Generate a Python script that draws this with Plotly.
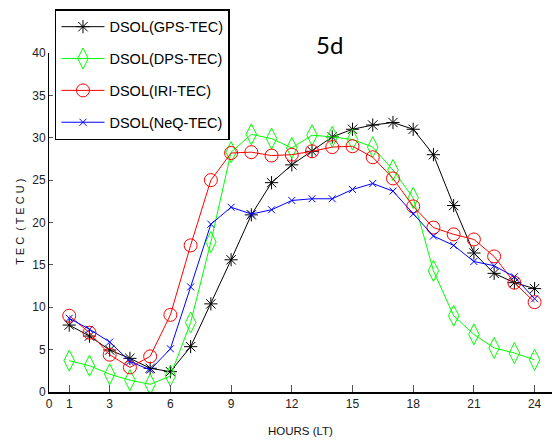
import plotly.graph_objects as go

hours = list(range(1, 25))
gps_tec = [7.9, 6.6, 4.95, 3.97, 2.8, 2.4, 5.35, 10.4, 15.6, 20.9, 24.7, 26.8,
           28.4, 30.1, 31.0, 31.5, 31.8, 31.0, 28.0, 22.0, 16.4, 14.0, 12.9, 12.2]
dps_tec = [3.7, 3.1, 2.1, 1.4, 0.9, 1.9, 8.2, 17.7, 28.3, 30.4, 29.9, 28.8,
           30.3, 30.1, 29.8, 28.9, 26.2, 22.9, 14.3, 9.0, 6.8, 5.2, 4.6, 3.8]
iri_tec = [9.0, 7.0, 4.4, 2.9, 4.2, 9.1, 17.3, 25.0, 28.2, 28.3, 27.9, 28.0,
           28.4, 28.9, 29.0, 27.7, 25.2, 21.9, 19.4, 18.6, 18.0, 16.0, 12.9, 10.6]
neq_tec = [8.7, 7.4, 5.9, 3.6, 2.6, 5.1, 12.4, 19.8, 21.8, 21.0, 21.5, 22.6,
           22.8, 22.8, 23.9, 24.6, 23.7, 21.0, 18.4, 17.3, 15.4, 14.9, 13.6, 11.0]

series_names = ["DSOL(GPS-TEC)", "DSOL(DPS-TEC)", "DSOL(IRI-TEC)", "DSOL(NeQ-TEC)"]
x_ticks = [0, 1, 3, 6, 9, 12, 15, 18, 21, 24]
y_ticks = [0, 5, 10, 15, 20, 25, 30, 35, 40]

SANS = "Liberation Sans, Arial, sans-serif"

styles = [
    dict(color="#000000", symbol="asterisk-open", size=11),
    dict(color="#00ff00", symbol="diamond-tall-open", size=15),
    dict(color="#ff0000", symbol="circle-open", size=13),
    dict(color="#0000ff", symbol="x-thin-open", size=7),
]
data = [gps_tec, dps_tec, iri_tec, neq_tec]

fig = go.Figure()
for i, (name, ys, st) in enumerate(zip(series_names, data, styles)):
    fig.add_trace(go.Scatter(
        x=hours, y=ys, name=name, mode="lines+markers",
        legendgroup=f"g{i}",
        line=dict(color=st["color"], width=1),
        marker=dict(symbol=st["symbol"], size=st["size"], color=st["color"],
                    line=dict(color=st["color"], width=1)),
    ))

fig.add_annotation(text="5d", x=0.558, y=1.026, xref="paper", yref="paper",
                   xanchor="center", yanchor="middle",
                   showarrow=False, font=dict(family="Lato, Open Sans, sans-serif", size=24, color="#000"))
fig.add_annotation(text="HOURS (LT)", x=0.5007, y=-0.114, xref="paper", yref="paper",
                   xanchor="center", yanchor="middle",
                   showarrow=False, font=dict(family=SANS, size=11.5, color="#111"))
fig.add_annotation(text="T E C  ( T E C U )", x=-0.0583, y=0.501, xref="paper", yref="paper",
                   xanchor="center", yanchor="middle",
                   textangle=-90, showarrow=False,
                   font=dict(family=SANS, size=11, color="#111"))

fig.update_layout(
    width=552, height=441,
    margin=dict(l=49, r=0, t=53, b=49, autoexpand=False),
    paper_bgcolor="white", plot_bgcolor="white",
    showlegend=True,
    legend=dict(x=0.0996, y=0.979, xref="container", yref="container",
                xanchor="left", yanchor="top",
                bordercolor="#000", borderwidth=1.5, bgcolor="white",
                font=dict(family=SANS, size=14.5, color="#000"),
                itemwidth=43, tracegroupgap=10),
    xaxis=dict(range=[0, 24.86], tickvals=x_ticks, ticktext=[str(t) for t in x_ticks],
               ticks="inside", ticklen=7, tickcolor="#555", tickwidth=1,
               showline=True, linecolor="#000", linewidth=1.5,
               showgrid=False, zeroline=False, automargin=False,
               tickfont=dict(family=SANS, size=12, color="#222")),
    yaxis=dict(range=[0, 40], tickvals=y_ticks,
               ticks="inside", ticklen=4, tickcolor="#555", tickwidth=1,
               showline=True, linecolor="#000", linewidth=1,
               showgrid=False, zeroline=False, automargin=False,
               tickfont=dict(family=SANS, size=12, color="#222")),
)

fig.write_html("out.html", config={"displayModeBar": False},
               post_script="document.body.style.margin='0';")
